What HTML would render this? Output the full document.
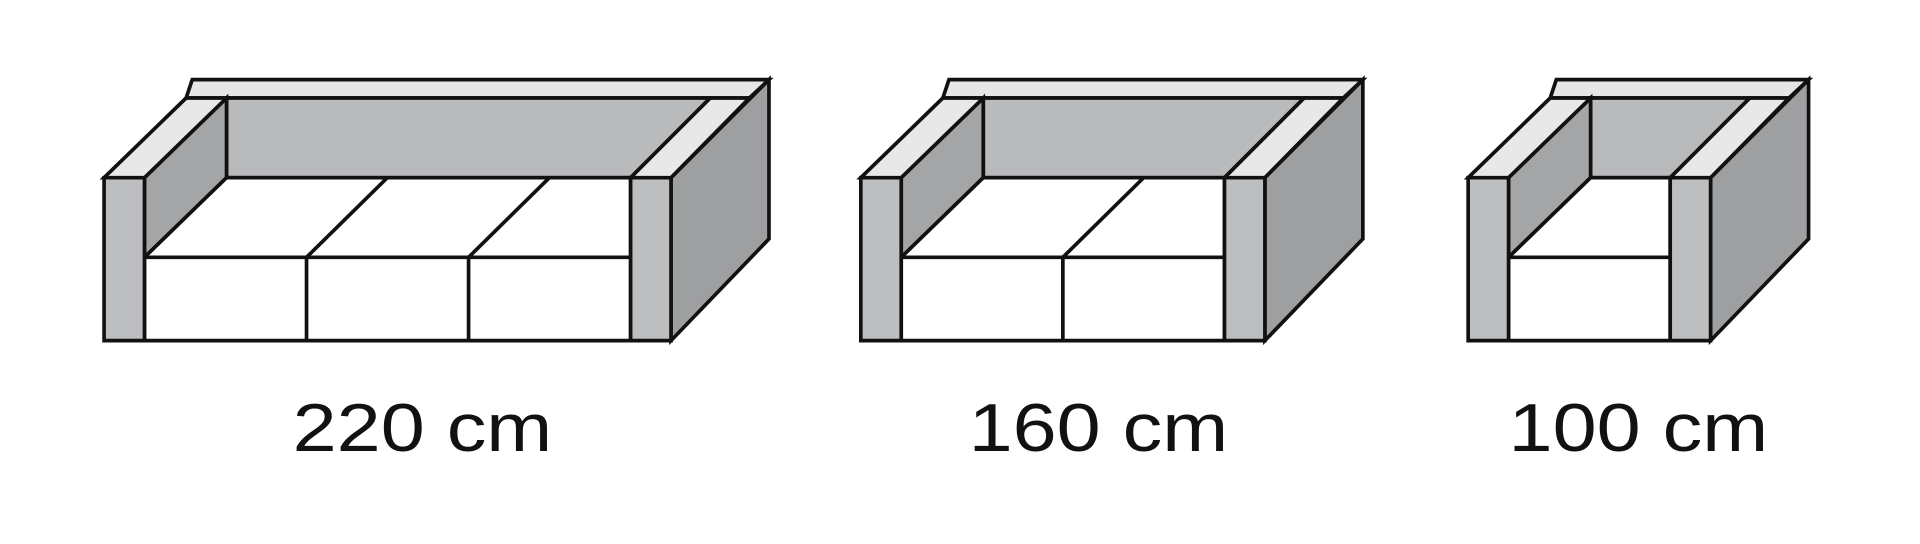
<!DOCTYPE html>
<html><head><meta charset="utf-8"><style>
html,body{margin:0;padding:0;background:#fff;}
svg{display:block;}
text{font-family:"Liberation Sans",sans-serif;font-size:55px;fill:#111;}
</style></head><body>
<svg width="1920" height="544" viewBox="0 0 1568 444" preserveAspectRatio="none">
<g id="root" stroke="#111" stroke-width="3" stroke-linejoin="miter"></g>
</svg>
<script>
const labels = ["220 cm", "160 cm", "100 cm"];
const leftX = [85, 703, 1199];
const rightX = [548, 1033, 1397];
const cushions = [3, 2, 1];
const labelCenters = [345, 897, 1338];
const NS = "http://www.w3.org/2000/svg";
const root = document.getElementById("root");
function poly(g, pts, fill, name) {
  const p = document.createElementNS(NS, "polygon");
  p.setAttribute("points", pts.map(q => q.join(",")).join(" "));
  p.setAttribute("fill", fill);
  
  
  g.appendChild(p);
}
function line(g, x1, y1, x2, y2, name) {
  const l = document.createElementNS(NS, "line");
  l.setAttribute("x1", x1); l.setAttribute("y1", y1);
  l.setAttribute("x2", x2); l.setAttribute("y2", y2);
  
  
  g.appendChild(l);
}
labels.forEach((lab, i) => {
  const g = document.createElementNS(NS, "g");
  
  
  root.appendChild(g);
  const x0 = leftX[i], x1 = rightX[i], a = 33;
  const iL = x0 + a, iR = x1 - a;
  const yT = 145, yS = 210, yB = 278, yBk = 80, yTop = 65;
  poly(g, [[x1, yT], [x1 + 80, yTop], [x1 + 80, yB - 83], [x1, yB]], "#9e9fa1", "right-side-face");
  poly(g, [[x0 + 72, yTop], [x1 + 80, yTop], [x1 + 64, yBk], [x0 + 67, yBk]], "#e6e6e6", "backrest-top");
  poly(g, [[iL + 67, yBk], [iR + 65, yBk], [iR, yT], [iL + 67, yT]], "#b9babc", "back-panel");
  poly(g, [[iL, yT], [iL + 67, yBk], [iL + 67, yT], [iL, yS]], "#a4a5a7", "left-arm-inner");
  poly(g, [[iL, yS], [iL + 67, yT], [iR, yT], [iR, yS]], "#ffffff", "seat-top");
  poly(g, [[iL, yS], [iR, yS], [iR, yB], [iL, yB]], "#ffffff", "seat-front");
  const n = cushions[i], w = (iR - iL) / n;
  for (let k = 1; k < n; k++) {
    const cx = iL + w * k;
    line(g, cx, yS, cx, yB, "cushion-divider-front");
    line(g, cx, yS, cx + 66, yT, "cushion-divider-top");
  }
  poly(g, [[x0, yT], [iL, yT], [iL, yB], [x0, yB]], "#bdbec0", "left-arm-front");
  poly(g, [[iR, yT], [x1, yT], [x1, yB], [iR, yB]], "#bdbec0", "right-arm-front");
  poly(g, [[x0, yT], [iL, yT], [iL + 67, yBk], [x0 + 67, yBk]], "#e8e8e8", "left-arm-top");
  poly(g, [[iR, yT], [x1, yT], [x1 + 64, yBk], [iR + 65, yBk]], "#e8e8e8", "right-arm-top");
  const t = document.createElementNS(NS, "text");
  t.setAttribute("x", labelCenters[i]);
  t.setAttribute("y", 368);
  t.setAttribute("text-anchor", "middle");
  t.setAttribute("textLength", 212);
  t.setAttribute("lengthAdjust", "spacingAndGlyphs");
  t.setAttribute("stroke", "none");
  t.textContent = lab;
  
  
  root.parentNode.appendChild(t);
});
</script>
</body></html>
